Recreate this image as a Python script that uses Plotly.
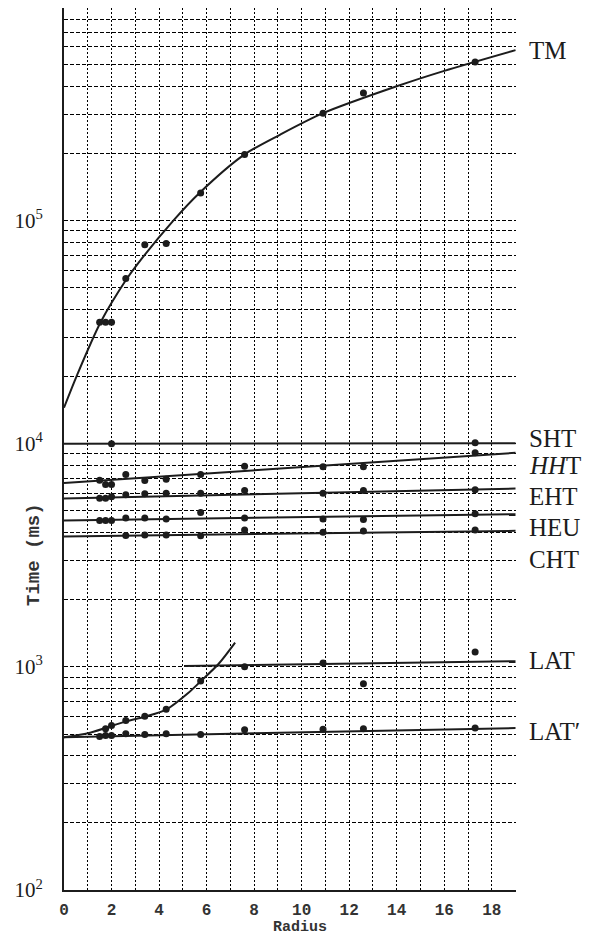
import math
import plotly.graph_objects as go

# ---------------- data ----------------
# TM
tm_pts_x = [1.5, 1.75, 2.0, 2.6, 3.4, 4.3, 5.75, 7.6, 10.9, 12.6, 17.3]
tm_pts_y = [35000, 35000, 35000, 55000, 78000, 79000, 133000, 198000, 303000, 373000, 514000]
tm_fit_x = [0, 0.55, 1.54, 2.6, 3.1, 4.6, 5.7, 7.6, 9.1, 10.9, 14.0, 16.0, 19.0]
tm_fit_y = [14500, 20300, 35000, 54000, 64000, 100000, 133000, 198000, 243000, 303000, 400000, 469000, 581000]

band_x = [1.5, 1.75, 2.0, 2.6, 3.4, 4.3, 5.75, 7.6, 10.9, 12.6, 17.3]
line_x = [0, 19.0]

# SHT
sht_pts_x = [2.0, 17.3]
sht_pts_y = [10000, 10100]
sht_line_y = [10000, 10050]

# HHT
hht_pts_y = [6860, 6560, 6570, 7280, 6850, 6930, 7280, 7930, 7880, 7880, 9100]
hht_line_y = [6670, 9100]

# EHT
eht_pts_y = [5700, 5700, 5790, 5910, 5970, 6000, 6000, 6170, 6000, 6170, 6220]
eht_line_y = [5680, 6300]

# HEU
heu_pts_y = [4530, 4530, 4530, 4650, 4650, 4600, 4920, 4650, 4600, 4570, 4850]
heu_line_y = [4530, 4830]

# CHT
cht_pts_x = [2.6, 3.4, 4.3, 5.75, 7.6, 10.9, 12.6, 17.3]
cht_pts_y = [3880, 3900, 3900, 3870, 4110, 4010, 4060, 4110]
cht_line_y = [3840, 4070]

# LAT
lat_pts_x = [7.6, 10.9, 12.6, 17.3]
lat_pts_y = [1000, 1042, 840, 1167]
lat_line_x = [5.05, 19.0]
lat_line_y = [1010, 1060]

# LAT'
latp_pts_y = [487, 493, 493, 501, 497, 501, 498, 522, 525, 528, 532]
latp_line_y = [484, 532]

# rising curve starting at LAT'
latc_pts_x = [1.75, 2.0, 2.6, 3.4, 4.3, 5.75]
latc_pts_y = [528, 546, 575, 600, 645, 865]
latc_fit_x = [0, 1.1, 2.6, 3.4, 4.3, 5.2, 5.75, 6.5, 7.2]
latc_fit_y = [484, 507, 570, 598, 643, 759, 862, 1030, 1285]

# curve labels and the value level where each label sits
label_names = ["TM", "SHT", "<i>HH</i>T", "EHT", "HEU", "CHT", "LAT", "LAT\u2032"]
label_levels = [577000, 10600, 7950, 5800, 4220, 3030, 1070, 515]

# axis ticks
x_tick_vals = list(range(0, 20))
x_tick_text = [str(v) if v % 2 == 0 and v < 19 else "" for v in x_tick_vals]
y_tick_vals = [k * 10 ** e for e in range(2, 6) for k in range(1, 10)]
y_tick_text = [("10<sup>%d</sup>" % e) if k == 1 else "" for e in range(2, 6) for k in range(1, 10)]

# ---------------- figure ----------------
INK = "#1c1c1c"
fig = go.Figure()


def add_line(x, y, spline=False):
    fig.add_trace(go.Scatter(
        x=x, y=y, mode="lines",
        line=dict(color=INK, width=2, shape="spline" if spline else "linear", smoothing=0.8),
        showlegend=False, hoverinfo="skip"))


def add_pts(x, y):
    fig.add_trace(go.Scatter(
        x=x, y=y, mode="markers",
        marker=dict(color=INK, size=7, line=dict(width=0)),
        showlegend=False))


add_line(tm_fit_x, tm_fit_y, spline=True)
add_pts(tm_pts_x, tm_pts_y)

add_line(line_x, sht_line_y)
add_pts(sht_pts_x, sht_pts_y)
add_line(line_x, hht_line_y)
add_pts(band_x, hht_pts_y)
add_line(line_x, eht_line_y)
add_pts(band_x, eht_pts_y)
add_line(line_x, heu_line_y)
add_pts(band_x, heu_pts_y)
add_line(line_x, cht_line_y)
add_pts(cht_pts_x, cht_pts_y)

add_line(lat_line_x, lat_line_y)
add_pts(lat_pts_x, lat_pts_y)
add_line(line_x, latp_line_y)
add_pts(band_x, latp_pts_y)
add_line(latc_fit_x, latc_fit_y, spline=True)
add_pts(latc_pts_x, latc_pts_y)

annotations = []
for name, lvl in zip(label_names, label_levels):
    annotations.append(dict(
        text=name, xref="paper", yref="y", x=1.0245, y=math.log10(lvl),
        xanchor="left", yanchor="middle", showarrow=False,
        font=dict(family="Liberation Serif", size=25, color=INK)))

annotations.append(dict(
    text="<b>Time (ms)</b>", xref="paper", yref="paper", x=-0.066, y=0.380,
    xanchor="center", yanchor="middle", textangle=-90, showarrow=False,
    font=dict(family="Liberation Mono", size=19, color="#333")))
annotations.append(dict(
    text="<b>Radius</b>", xref="paper", yref="paper", x=0.522, y=-0.043,
    xanchor="center", yanchor="middle", showarrow=False,
    font=dict(family="Liberation Mono", size=15, color="#333")))

# the page body has an 8px margin, so the figure is drawn 8px in from the top-left
fig.update_layout(
    width=590, height=928,
    margin=dict(l=56, r=82, t=0, b=46),
    paper_bgcolor="white", plot_bgcolor="white",
    showlegend=False,
    annotations=annotations,
    xaxis=dict(
        range=[0, 19.02], tickmode="array", tickvals=x_tick_vals, ticktext=x_tick_text,
        showgrid=True, gridcolor="#000", gridwidth=1.3, griddash="2px,2px",
        showline=True, linecolor=INK, linewidth=2, zeroline=False, automargin=False,
        ticks="outside", ticklen=4, tickcolor="rgba(0,0,0,0)",
        tickfont=dict(family="Liberation Mono", size=16, color="#333", weight="bold"),
    ),
    yaxis=dict(
        type="log", range=[2, math.log10(8.97e5)], tickmode="array",
        tickvals=y_tick_vals, ticktext=y_tick_text,
        showgrid=True, gridcolor="#000", gridwidth=1.1, griddash="4px,2px",
        showline=True, linecolor=INK, linewidth=2, zeroline=False, automargin=False,
        ticks="outside", ticklen=15, tickcolor="rgba(0,0,0,0)",
        tickfont=dict(family="Liberation Serif", size=21, color=INK),
    ),
)

fig.write_html("out.html")
